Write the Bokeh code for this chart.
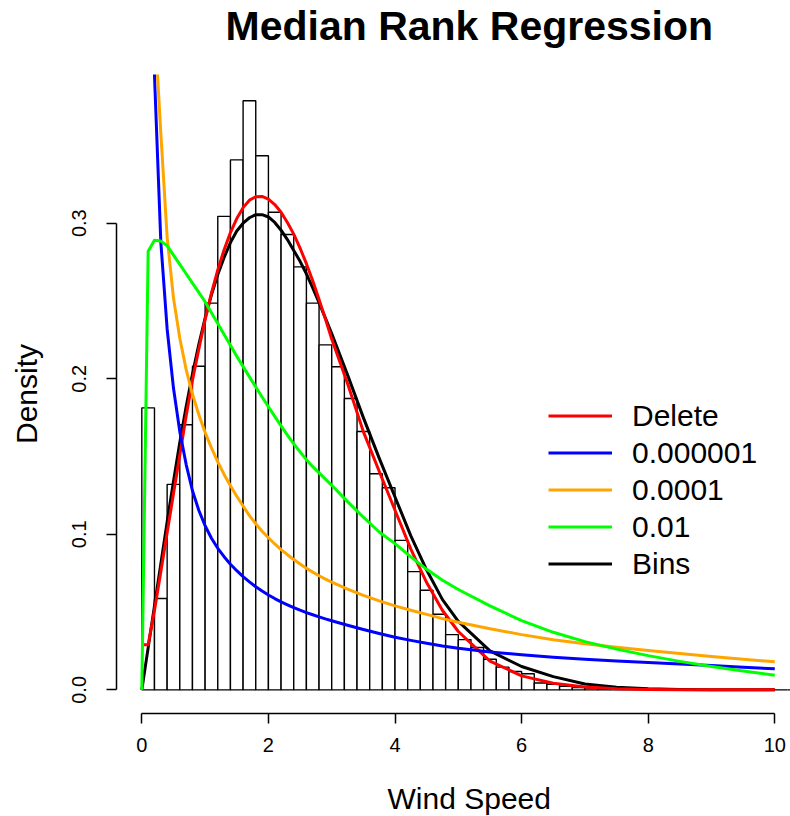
import math

from bokeh.embed import file_html
from bokeh.models import (FixedTicker, Legend, LegendItem, NumeralTickFormatter,
                          Range1d, Title)
from bokeh.plotting import figure
from bokeh.resources import INLINE

FONT = "Liberation Sans"

# Histogram of wind speeds (density scale), bins of width 0.2 starting at 0
bin_start = 0.0
bin_width = 0.2
hist_density = [
    0.1813, 0.0587, 0.1321, 0.1704, 0.2080, 0.2486, 0.3044, 0.3407, 0.3787, 0.3434,
    0.3070, 0.2927, 0.2719, 0.2486, 0.2218, 0.2077, 0.1873, 0.1661, 0.1389, 0.1299,
    0.0961, 0.0760, 0.0640, 0.0486, 0.0355, 0.0323, 0.0272, 0.0197, 0.0146, 0.0118,
    0.0104, 0.0044, 0.0036, 0.0023, 0.0015, 0.0012, 0.0008, 0.0005, 0.0004, 0.0002,
    0.0001, 0.0, 0.0, 0.0, 0.0, 0.0, 0.0, 0.0, 0.0, 0.0,
    0.0, 0.0,
]

# Fitted density curves evaluated along the wind speed axis
speed = [0.0, 0.1, 0.2, 0.3, 0.4, 0.5, 0.6, 0.7, 0.8, 0.9,
         1.0, 1.1, 1.2, 1.3, 1.4, 1.5, 1.6, 1.7, 1.8, 1.9,
         2.0, 2.1, 2.2, 2.3, 2.4, 2.5, 2.6, 2.7, 2.8, 2.9,
         3.0, 3.25, 3.5, 3.75, 4.0, 4.25, 4.5, 4.75, 5.0,
         5.5, 6.0, 6.5, 7.0, 7.5, 8.0, 8.5, 9.0, 9.5, 10.0]
nan = math.nan

fit_delete = [0.029, 0.029, 0.051, 0.076, 0.101, 0.126, 0.151, 0.176, 0.199, 0.219,
              0.238, 0.255, 0.270, 0.283, 0.294, 0.303, 0.310, 0.3148, 0.3170, 0.3172,
              0.3155, 0.3120, 0.3070, 0.3005, 0.2930, 0.2840, 0.2740, 0.2630, 0.2510, 0.2385,
              0.2255, 0.197, 0.166, 0.1405, 0.1155, 0.0905, 0.0690, 0.0510, 0.0375,
              0.0185, 0.0090, 0.0042, 0.0018, 0.0007, 0.0003, 0.0001, 0.0, 0.0, 0.0]
fit_1e6 = [nan, 0.9, 0.395, 0.288, 0.232, 0.194, 0.166, 0.145, 0.128, 0.1155,
           0.1055, 0.0975, 0.0910, 0.0856, 0.0808, 0.0766, 0.0728, 0.0694, 0.0663, 0.0635,
           0.0610, 0.0587, 0.0566, 0.0547, 0.0529, 0.0512, 0.0497, 0.0483, 0.0469, 0.0456,
           0.0444, 0.0415, 0.0388, 0.0362, 0.0338, 0.0318, 0.0300, 0.0282, 0.0267,
           0.0244, 0.0225, 0.0210, 0.0197, 0.0186, 0.0176, 0.0166, 0.0157, 0.0146, 0.0135]
fit_1e4 = [nan, 1.2, 0.43, 0.358, 0.291, 0.252, 0.226, 0.206, 0.190, 0.177,
           0.1655, 0.1555, 0.1465, 0.1385, 0.1312, 0.1245, 0.1182, 0.1120, 0.1068, 0.1020,
           0.0978, 0.0938, 0.0902, 0.0869, 0.0838, 0.0809, 0.0782, 0.0757, 0.0734, 0.0712,
           0.0692, 0.0647, 0.0607, 0.0572, 0.0540, 0.0512, 0.0485, 0.0458, 0.0435,
           0.0393, 0.0355, 0.0322, 0.0296, 0.0274, 0.0253, 0.0233, 0.0214, 0.0197, 0.0180]
fit_1e2 = [0.0, 0.282, 0.289, 0.2885, 0.2855, 0.2795, 0.2735, 0.2675, 0.2615, 0.2555,
           0.2495, 0.2425, 0.2355, 0.2285, 0.2215, 0.2145, 0.2078, 0.2012, 0.1947, 0.1883,
           0.1820, 0.1758, 0.1697, 0.1638, 0.1582, 0.1530, 0.1480, 0.1435, 0.1395, 0.1355,
           0.1315, 0.1210, 0.1110, 0.1015, 0.0940, 0.0855, 0.0775, 0.0705, 0.0645,
           0.0540, 0.0445, 0.0370, 0.0310, 0.0262, 0.0220, 0.0183, 0.0150, 0.0121, 0.0094]
fit_bins = [0.0, 0.027, 0.054, 0.081, 0.108, 0.134, 0.159, 0.182, 0.203, 0.222,
            0.239, 0.254, 0.267, 0.278, 0.2875, 0.295, 0.300, 0.3035, 0.3055, 0.3055,
            0.3040, 0.3005, 0.2955, 0.2895, 0.2825, 0.2755, 0.2675, 0.2585, 0.2490, 0.2390,
            0.2290, 0.2025, 0.175, 0.149, 0.124, 0.099, 0.077, 0.058, 0.044,
            0.025, 0.015, 0.0085, 0.0038, 0.0017, 0.0007, 0.0003, 0.0001, 0.0, 0.0]

series = [
    ("Delete", fit_delete, "#FF0000"),
    ("0.000001", fit_1e6, "#0000FF"),
    ("0.0001", fit_1e4, "#FFA500"),
    ("0.01", fit_1e2, "#00FF00"),
    ("Bins", fit_bins, "#000000"),
]
draw_order = ["Bins", "Delete", "0.000001", "0.0001", "0.01"]

x_ticks = [0, 2, 4, 6, 8, 10]
y_ticks = [0.0, 0.1, 0.2, 0.3]

# frame: 116 px on the left, 73 px above, 103 px below
p = figure(width=790, height=816, output_backend="svg", toolbar_location=None,
           x_range=Range1d(-0.4, 10.248), y_range=Range1d(-0.0152, 0.3956),
           min_border_left=116, min_border_right=0, min_border_top=73,
           min_border_bottom=103)
p.outline_line_color = None
p.grid.visible = False
p.background_fill_color = "white"
p.border_fill_color = "white"

# histogram bars
left = [bin_start + i * bin_width for i in range(len(hist_density))]
right = [v + bin_width for v in left]
p.quad(left=left, right=right, bottom=0, top=hist_density,
       fill_color="white", line_color="black", line_width=1.4)

renderers = {}
lookup = {name: (vals, col) for name, vals, col in series}
for name in draw_order:
    vals, col = lookup[name]
    renderers[name] = p.line(speed, vals, line_color=col, line_width=3,
                             line_join="round")

legend = Legend(items=[LegendItem(label=name, renderers=[renderers[name]])
                       for name, _, _ in series],
                location=(432, 131), orientation="vertical",
                glyph_width=64, glyph_height=37, label_height=37,
                label_standoff=20, spacing=0, padding=0, margin=0,
                label_text_font=FONT, label_text_font_size="30px",
                label_text_color="black",
                border_line_color=None, background_fill_alpha=0)
p.add_layout(legend, "center")

# axes in the style of base graphics
xa = p.xaxis[0]
xa.ticker = FixedTicker(ticks=x_ticks)
xa.bounds = (x_ticks[0], x_ticks[-1])
ya = p.yaxis[0]
ya.ticker = FixedTicker(ticks=y_ticks)
ya.bounds = (y_ticks[0], y_ticks[-1])
ya.formatter = NumeralTickFormatter(format="0.0")
ya.major_label_orientation = "vertical"
for ax in (xa, ya):
    ax.axis_line_color = "black"
    ax.axis_line_width = 1.5
    ax.major_tick_line_color = "black"
    ax.major_tick_line_width = 1.5
    ax.major_tick_out = 10
    ax.major_tick_in = 0
    ax.minor_tick_line_color = None
    ax.major_label_text_font = FONT
    ax.major_label_text_font_size = "20px"
    ax.major_label_text_color = "black"
xa.major_label_standoff = 14
ya.major_label_standoff = 20
ya.axis_label = "Density"
ya.axis_label_text_font = FONT
ya.axis_label_text_font_size = "30px"
ya.axis_label_text_font_style = "normal"
ya.axis_label_text_color = "black"
ya.axis_label_standoff = 27

# thin blank rows that push the titles away from the frame
p.add_layout(Title(text=" ", text_font_size="2px", standoff=22), "above")
p.add_layout(Title(text=" ", text_font_size="2px", standoff=21), "below")

p.title.text = "Median Rank Regression"
p.title.align = "left"
p.title.offset = 109
p.title.text_font = FONT
p.title.text_font_size = "41px"
p.title.text_font_style = "bold"
p.title.text_color = "black"
p.title.standoff = 0

xlab = Title(text="Wind Speed", align="left", offset=271, text_font=FONT,
             text_font_size="30px", text_font_style="normal", text_color="black",
             standoff=0)
p.add_layout(xlab, "below")

open("out.html", "w").write(file_html(p, INLINE))
